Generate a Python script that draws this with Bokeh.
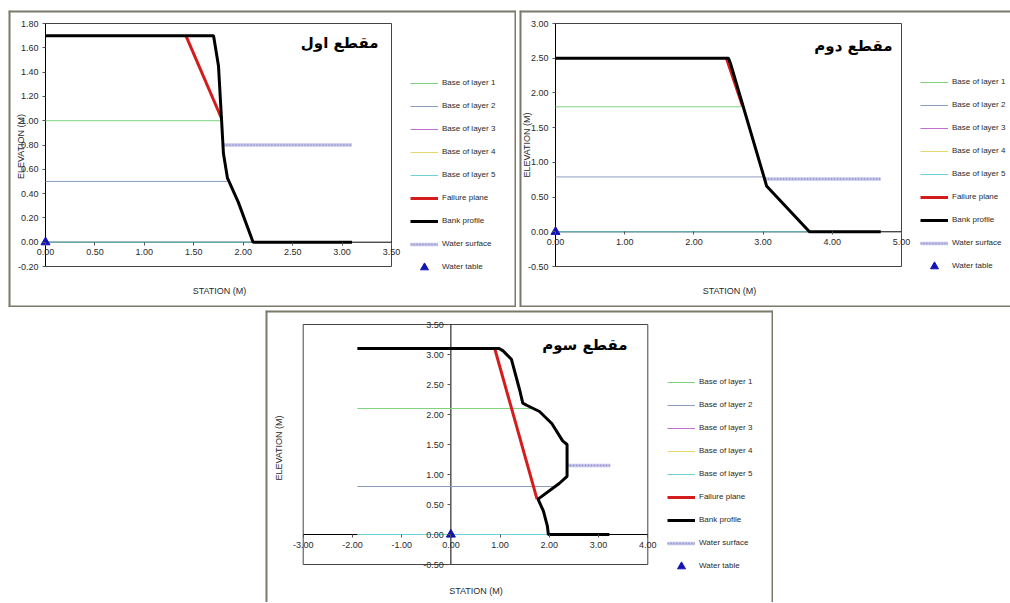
import math
from bokeh.plotting import figure
from bokeh.models import (Range1d, FixedTicker, NumeralTickFormatter,
                          Legend, LegendItem, Label, Spacer)
from bokeh.layouts import row, column
from bokeh.embed import file_html
from bokeh.resources import INLINE

NAN = float("nan")

# ---------------- shared texts ----------------
LEGEND_LABELS = ["Base of layer 1", "Base of layer 2", "Base of layer 3", "Base of layer 4",
                 "Base of layer 5", "Failure plane", "Bank profile", "Water surface", "Water table"]
X_TITLE = "STATION (M)"
Y_TITLE = "ELEVATION (M)"

# ---------------- section 1 ----------------
s1_name = "مقطع اول"
s1_x_ticks = [0.0, 0.5, 1.0, 1.5, 2.0, 2.5, 3.0, 3.5]
s1_y_ticks = [-0.2, 0.0, 0.2, 0.4, 0.6, 0.8, 1.0, 1.2, 1.4, 1.6, 1.8]
s1_layer1_x = [0.00, 1.77]
s1_layer1_y = [1.00, 1.00]
s1_layer2_x = [0.00, 1.84]
s1_layer2_y = [0.50, 0.50]
s1_layer3_x = []
s1_layer3_y = []
s1_layer4_x = []
s1_layer4_y = []
s1_layer5_x = [0.00, 2.10]
s1_layer5_y = [0.00, 0.00]
s1_fail_x = [1.42, 1.78]
s1_fail_y = [1.70, 1.02]
s1_bank_x = [0.00, 1.70, 1.75, 1.78, 1.80, 1.84, 1.95, 2.10, 3.10]
s1_bank_y = [1.70, 1.70, 1.45, 1.02, 0.73, 0.53, 0.33, 0.00, 0.00]
s1_water_x = [1.80, 3.10]
s1_water_y = [0.80, 0.80]
s1_table_x = [0.00]
s1_table_y = [0.00]

# ---------------- section 2 ----------------
s2_name = "مقطع دوم"
s2_x_ticks = [0.0, 1.0, 2.0, 3.0, 4.0, 5.0]
s2_y_ticks = [-0.5, 0.0, 0.5, 1.0, 1.5, 2.0, 2.5, 3.0]
s2_layer1_x = [0.00, 2.70]
s2_layer1_y = [1.80, 1.80]
s2_layer2_x = [0.00, 3.01]
s2_layer2_y = [0.79, 0.79]
s2_layer3_x = []
s2_layer3_y = []
s2_layer4_x = []
s2_layer4_y = []
s2_layer5_x = [0.00, 3.67]
s2_layer5_y = [0.00, 0.00]
s2_fail_x = [2.47, 2.70]
s2_fail_y = [2.50, 1.82]
s2_bank_x = [0.00, 2.50, 2.53, 3.01, 3.05, 3.67, 4.70]
s2_bank_y = [2.50, 2.50, 2.42, 0.80, 0.66, 0.00, 0.00]
s2_water_x = [3.03, 4.70]
s2_water_y = [0.76, 0.76]
s2_table_x = [0.00]
s2_table_y = [0.00]

# ---------------- section 3 ----------------
s3_name = "مقطع سوم"
s3_x_ticks = [-3.0, -2.0, -1.0, 0.0, 1.0, 2.0, 3.0, 4.0]
s3_y_ticks = [-0.5, 0.0, 0.5, 1.0, 1.5, 2.0, 2.5, 3.0, 3.5]
s3_layer1_x = [-1.90, 1.62]
s3_layer1_y = [2.10, 2.10]
s3_layer2_x = [-1.90, 2.12]
s3_layer2_y = [0.80, 0.80]
s3_layer3_x = []
s3_layer3_y = []
s3_layer4_x = []
s3_layer4_y = []
s3_layer5_x = [-1.90, 1.98]
s3_layer5_y = [0.00, 0.00]
s3_fail_x = [0.89, 1.75]
s3_fail_y = [3.10, 0.59]
s3_bank_x = [-1.90, 0.98, 1.06, 1.23, 1.40, 1.46, 1.55, 1.80, 2.05, 2.27, 2.36, 2.36,
             2.20, 1.77, 1.88, 1.96, 1.98, 3.22]
s3_bank_y = [3.10, 3.10, 3.06, 2.92, 2.40, 2.19, 2.15, 2.05, 1.85, 1.56, 1.50, 0.97,
             0.85, 0.59, 0.39, 0.14, 0.00, 0.00]
s3_water_x = [2.36, 3.24]
s3_water_y = [1.15, 1.15]
s3_table_x = [0.00]
s3_table_y = [0.00]

# ---------------- styles ----------------
LAYER_COLORS = ["#7ed37e", "#8c9cbc", "#c070d0", "#e6d66e", "#6fd0d8"]
FAIL_COLOR = "#d41c1c"
BANK_COLOR = "#000000"
WATER_FILL = "#c4c4ea"
WATER_DASH = "#8a8ac0"
TABLE_COLOR = "#1414b4"
TEXT_COLOR = "#2a2a2a"
BOX_COLOR = "#444444"
PANEL_BORDER = "#7a7a6a"
FONT = "Liberation Sans"


def style_axis(ax, ticks):
    ax.fixed_location = 0
    ax.ticker = FixedTicker(ticks=ticks)
    ax.formatter = NumeralTickFormatter(format="0.00")
    ax.major_label_text_font = FONT
    ax.major_label_text_font_size = "9px"
    ax.major_label_text_color = TEXT_COLOR
    ax.major_tick_in = 0
    ax.major_tick_out = 3
    ax.major_label_standoff = 4
    ax.minor_tick_line_color = None
    ax.axis_line_color = None
    ax.major_tick_line_color = "#555555"


def span_range(ticks, lo_px, hi_px, total_px):
    # lo_px / hi_px: pixel positions (from the start side) of the first and last tick
    k = (ticks[-1] - ticks[0]) / (hi_px - lo_px)
    return Range1d(ticks[0] - lo_px * k, ticks[-1] + (total_px - hi_px) * k)


def make_panel(d, g):
    W, H = g["W"], g["H"]
    xr = span_range(d["xt"], g["box_l"], g["box_r"], W)
    yr = span_range(d["yt"], H - g["box_b"], H - g["box_t"], H)
    p = figure(width=W, height=H, frame_width=W, frame_height=H,
               min_border=0, min_border_left=0, min_border_right=0,
               min_border_top=0, min_border_bottom=0,
               x_range=xr, y_range=yr, output_backend="svg", toolbar_location=None)
    p.grid.visible = False
    p.background_fill_color = "white"
    p.border_fill_color = "white"
    p.outline_line_color = None

    # panel border on the visible sides (at the range extents)
    ends = {"top": (xr.start, yr.end, xr.end, yr.end),
            "bottom": (xr.start, yr.start, xr.end, yr.start),
            "left": (xr.start, yr.start, xr.start, yr.end),
            "right": (xr.end, yr.start, xr.end, yr.end)}
    segs = [ends[s] for s in g["sides"]]
    p.segment(x0=[s[0] for s in segs], y0=[s[1] for s in segs],
              x1=[s[2] for s in segs], y1=[s[3] for s in segs],
              line_color=PANEL_BORDER, line_width=4)

    style_axis(p.xaxis[0], d["xt"])
    style_axis(p.yaxis[0], d["yt"])

    # plot-area box and axis lines (drawn from the tick extents)
    p.quad(left=[d["xt"][0]], right=[d["xt"][-1]], bottom=[d["yt"][0]], top=[d["yt"][-1]],
           fill_alpha=0, line_color=BOX_COLOR, line_width=1)
    p.line([d["xt"][0], d["xt"][-1]], [0, 0], line_color="black", line_width=1)
    p.line([0, 0], [d["yt"][0], d["yt"][-1]], line_color="black", line_width=1)

    layer_r = []
    for i in range(5):
        r = p.line(d["lx"][i], d["ly"][i], line_color=LAYER_COLORS[i], line_width=1)
        if len(d["lx"][i]) == 0:
            # series without points: legend swatch only
            r = p.line([NAN], [NAN], line_color=LAYER_COLORS[i], line_width=1)
        layer_r.append(r)
    w1 = p.line(d["wx"], d["wy"], line_color=WATER_FILL, line_width=3.5)
    w2 = p.line(d["wx"], d["wy"], line_color=WATER_DASH, line_width=1.5, line_dash="1 2")
    rf = p.line(d["fx"], d["fy"], line_color=FAIL_COLOR, line_width=3)
    rb = p.line(d["bx"], d["by"], line_color=BANK_COLOR, line_width=3)
    p.scatter(d["tx"], d["ty"], marker="triangle", size=9,
              fill_color=TABLE_COLOR, line_color=TABLE_COLOR)
    rt_key = p.scatter([NAN], [NAN], marker="triangle", size=5,
                       fill_color=TABLE_COLOR, line_color=TABLE_COLOR)

    renderers = [[r] for r in layer_r] + [[rf], [rb], [w1, w2], [rt_key]]
    items = [LegendItem(label=lab, renderers=rs) for lab, rs in zip(LEGEND_LABELS, renderers)]
    leg = Legend(items=items, location=(g["leg_x"], g["leg_y"]), orientation="vertical",
                 padding=0, margin=0, spacing=3, glyph_width=28, glyph_height=20,
                 label_height=20, label_standoff=4, label_text_font=FONT,
                 label_text_font_size="8px", label_text_color=TEXT_COLOR,
                 border_line_color=None, background_fill_alpha=0)
    p.add_layout(leg)

    # section name
    p.add_layout(Label(x=g["name_x"], y=g["name_y"], x_units="screen", y_units="screen",
                       text=d["name"], text_align="right", text_baseline="middle",
                       text_font="DejaVu Sans", text_font_size="15px",
                       text_font_style="bold", text_color="black"))
    # axis titles
    p.add_layout(Label(x=g["xt_x"], y=g["xt_y"], x_units="screen", y_units="screen",
                       text=X_TITLE, text_align="center", text_baseline="middle",
                       text_font=FONT, text_font_size="9px", text_color=TEXT_COLOR))
    p.add_layout(Label(x=g["yt_x"], y=g["yt_y"], x_units="screen", y_units="screen",
                       text=Y_TITLE, angle=math.pi / 2, text_align="center",
                       text_baseline="middle", text_font=FONT, text_font_size="9px",
                       text_color=TEXT_COLOR))
    return p


sec1 = dict(name=s1_name, xt=s1_x_ticks, yt=s1_y_ticks,
            lx=[s1_layer1_x, s1_layer2_x, s1_layer3_x, s1_layer4_x, s1_layer5_x],
            ly=[s1_layer1_y, s1_layer2_y, s1_layer3_y, s1_layer4_y, s1_layer5_y],
            fx=s1_fail_x, fy=s1_fail_y, bx=s1_bank_x, by=s1_bank_y,
            wx=s1_water_x, wy=s1_water_y, tx=s1_table_x, ty=s1_table_y)
sec2 = dict(name=s2_name, xt=s2_x_ticks, yt=s2_y_ticks,
            lx=[s2_layer1_x, s2_layer2_x, s2_layer3_x, s2_layer4_x, s2_layer5_x],
            ly=[s2_layer1_y, s2_layer2_y, s2_layer3_y, s2_layer4_y, s2_layer5_y],
            fx=s2_fail_x, fy=s2_fail_y, bx=s2_bank_x, by=s2_bank_y,
            wx=s2_water_x, wy=s2_water_y, tx=s2_table_x, ty=s2_table_y)
sec3 = dict(name=s3_name, xt=s3_x_ticks, yt=s3_y_ticks,
            lx=[s3_layer1_x, s3_layer2_x, s3_layer3_x, s3_layer4_x, s3_layer5_x],
            ly=[s3_layer1_y, s3_layer2_y, s3_layer3_y, s3_layer4_y, s3_layer5_y],
            fx=s3_fail_x, fy=s3_fail_y, bx=s3_bank_x, by=s3_bank_y,
            wx=s3_water_x, wy=s3_water_y, tx=s3_table_x, ty=s3_table_y)

# pixel geometry of each panel (canvas px; box_l/_r from left, box_t/_b from top;
# label positions in screen units from the bottom-left corner)
g1 = dict(W=508, H=297, box_l=37, box_r=383, box_t=13, box_b=256,
          leg_x=402, leg_y=30.3, name_x=370, name_y=265,
          xt_x=211, xt_y=16.3, yt_x=12, yt_y=161,
          sides=["top", "bottom", "left", "right"])
g2 = dict(W=491, H=297, box_l=36, box_r=382, box_t=13, box_b=256,
          leg_x=401, leg_y=31.3, name_x=373, name_y=261.5,
          xt_x=210, xt_y=17, yt_x=7, yt_y=162.5,
          sides=["top", "bottom", "left"])
g3 = dict(W=508, H=292, box_l=37.7, box_r=382.3, box_t=14, box_b=254,
          leg_x=402, leg_y=26.3, name_x=362, name_y=257.5,
          xt_x=210.5, xt_y=11.5, yt_x=13, yt_y=154.5,
          sides=["top", "left", "right"])

p1 = make_panel(sec1, g1)
p2 = make_panel(sec2, g2)
p3 = make_panel(sec3, g3)

layout = column(
    Spacer(height=10),
    row(Spacer(width=8), p1, Spacer(width=3), p2),
    Spacer(height=3),
    row(Spacer(width=265), p3),
)

open("out.html", "w").write(file_html(layout, INLINE))
